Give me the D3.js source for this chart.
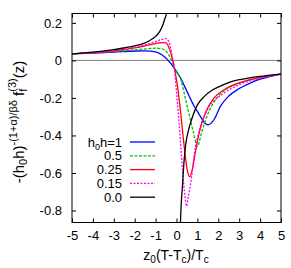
<!DOCTYPE html>
<html>
<head>
<meta charset="utf-8">
<script src="https://cdn.jsdelivr.net/npm/d3@7"></script>
<style>
body { margin: 0; background: #fff; }
text { font-family: "Liberation Sans", Arial, sans-serif; }
</style>
</head>
<body>
<svg id="chart" width="291" height="268"></svg>
<script>
// DATA
var xTicks = [-5, -4, -3, -2, -1, 0, 1, 2, 3, 4, 5];
var yTicks = [0.2, 0, -0.2, -0.4, -0.6, -0.8];
var labels = ["1", "0.5", "0.25", "0.15", "0.0"];

var blueX = [-5, -4, -3, -2, -1.5, -1, -0.7, -0.4, -0.1, 0.2, 0.5, 0.8, 1.1, 1.35, 1.5, 1.8, 2.1, 2.5, 3, 3.5, 4, 4.5, 5];
var blueY = [0.035, 0.039, 0.044, 0.05, 0.051, 0.046, 0.03, 0.0, -0.042, -0.095, -0.165, -0.235, -0.29, -0.334, -0.343, -0.315, -0.245, -0.19, -0.15, -0.122, -0.1, -0.085, -0.073];

var greenX = [-5, -4, -3, -2, -1.5, -1, -0.7, -0.45, -0.2, -0.1, 0.2, 0.4, 0.6, 0.8, 1.0, 1.2, 1.45, 1.75, 2.2, 2.8, 3.5, 4.2, 5];
var greenY = [0.035, 0.04, 0.047, 0.056, 0.061, 0.065, 0.062, 0.043, -0.01, -0.042, -0.1, -0.19, -0.285, -0.38, -0.458, -0.385, -0.3, -0.23, -0.168, -0.13, -0.105, -0.088, -0.073];

var redX = [-5, -4, -3, -2, -1.5, -1, -0.7, -0.5, -0.35, -0.2, -0.1, 0.05, 0.2, 0.35, 0.5, 0.64, 0.76, 0.9, 1.1, 1.4, 1.8, 2.3, 3, 4, 5];
var redY = [0.035, 0.041, 0.05, 0.067, 0.078, 0.09, 0.095, 0.093, 0.065, 0.01, -0.042, -0.14, -0.28, -0.44, -0.575, -0.62, -0.58, -0.49, -0.38, -0.275, -0.2, -0.155, -0.12, -0.09, -0.073];

var pinkX = [-5, -4, -3, -2, -1.5, -1, -0.7, -0.5, -0.35, -0.2, -0.1, 0.0, 0.1, 0.2, 0.3, 0.4, 0.48, 0.56, 0.7, 0.85, 1.1, 1.5, 2.2, 3, 4, 5];
var pinkY = [0.035, 0.041, 0.051, 0.07, 0.083, 0.1, 0.112, 0.116, 0.095, 0.02, -0.042, -0.17, -0.3, -0.45, -0.6, -0.72, -0.777, -0.73, -0.64, -0.5, -0.37, -0.26, -0.18, -0.13, -0.095, -0.075];

var blackLeftX = [-5, -4, -3, -2.5, -2, -1.6, -1.3, -1.0, -0.8, -0.65, -0.55, -0.48, -0.44];
var blackLeftY = [0.035, 0.044, 0.057, 0.067, 0.078, 0.09, 0.105, 0.128, 0.155, 0.19, 0.225, 0.25, 0.28];
var blackRightX = [0.17, 0.19, 0.29, 0.36, 0.44, 0.6, 0.77, 1.0, 1.32, 1.72, 2.04, 2.4, 3.0, 3.5, 4.0, 4.5, 5];
var blackRightY = [-0.95, -0.864, -0.66, -0.538, -0.449, -0.361, -0.299, -0.237, -0.193, -0.158, -0.14, -0.122, -0.103, -0.093, -0.085, -0.078, -0.073];

// SERIES TABLE
function zip(xs, ys) { return xs.map(function(x, i) { return {x: x, y: ys[i]}; }); }
var series = [
    {parts: [zip(blueX, blueY)], color: "#0000ff", dash: null},
    {parts: [zip(greenX, greenY)], color: "#00c000", dash: "3,1.5"},
    {parts: [zip(redX, redY)], color: "#ff0000", dash: null},
    {parts: [zip(pinkX, pinkY)], color: "#ff00ff", dash: "2,1.5"},
    {parts: [zip(blackLeftX, blackLeftY), zip(blackRightX, blackRightY)], color: "#000000", dash: null}
];

// LAYOUT
var L = 72, R = 281, T = 13.5, B = 222.5;
var svg = d3.select("#chart");

var x = d3.scaleLinear().domain([-5, 5]).range([L, R]);
var y = d3.scaleLinear().domain([-0.864, 0.25]).range([B, T]);

svg.append("defs").append("clipPath").attr("id", "clip")
    .append("rect").attr("x", L).attr("y", T).attr("width", R - L).attr("height", B - T);

// zero line
svg.append("line")
    .attr("x1", L).attr("x2", R).attr("y1", y(0)).attr("y2", y(0))
    .attr("stroke", "#808080").attr("stroke-width", 1);

// AXES (ticks inside, mirrored)
function tickStyle(g) {
    g.select(".domain").remove();
    g.selectAll("line").attr("stroke", "#000");
}
svg.append("g").attr("transform", "translate(0," + B + ")")
    .call(d3.axisBottom(x).tickValues(xTicks).tickSize(-4).tickPadding(8).tickFormat(d3.format("d")))
    .call(tickStyle)
    .selectAll("text").attr("font-size", "13px").attr("fill", "#000");
svg.append("g").attr("transform", "translate(0," + T + ")")
    .call(d3.axisTop(x).tickValues(xTicks).tickSize(-4).tickFormat(""))
    .call(tickStyle);
svg.append("g").attr("transform", "translate(" + L + ",0)")
    .call(d3.axisLeft(y).tickValues(yTicks).tickSize(-4).tickPadding(10).tickFormat(function(d) { return d === 0 ? "0" : d3.format(".1f")(d); }))
    .call(tickStyle)
    .selectAll("text").attr("font-size", "13px").attr("fill", "#000");
svg.append("g").attr("transform", "translate(" + R + ",0)")
    .call(d3.axisRight(y).tickValues(yTicks).tickSize(-4).tickFormat(""))
    .call(tickStyle);

// hyphen minus like gnuplot
svg.selectAll("text").each(function() {
    var t = d3.select(this);
    t.text(t.text().replace("\u2212", "-"));
});

// CURVES
var line = d3.line().x(function(d) { return x(d.x); }).y(function(d) { return y(d.y); }).curve(d3.curveMonotoneX);
var plot = svg.append("g").attr("clip-path", "url(#clip)");
series.forEach(function(s) {
    s.parts.forEach(function(p) {
        plot.append("path").datum(p)
            .attr("d", line)
            .attr("fill", "none")
            .attr("stroke", s.color)
            .attr("stroke-width", 1.3)
            .attr("stroke-dasharray", s.dash);
    });
});

// frame
svg.append("rect").attr("x", L).attr("y", T).attr("width", R - L).attr("height", B - T)
    .attr("fill", "none").attr("stroke", "#000").attr("stroke-width", 1);

// LEGEND
var leg = svg.append("g");
series.forEach(function(s, i) {
    var yy = 142 + i * 13.8;
    var t = leg.append("text").attr("x", 122).attr("y", yy).attr("dy", "0.35em")
        .attr("text-anchor", "end").attr("font-size", "13px");
    if (i === 0) {
        t.append("tspan").text("h");
        t.append("tspan").attr("font-size", "9px").attr("dy", 3).text("0");
        t.append("tspan").attr("dy", -3).text("h=" + labels[i]);
    } else {
        t.text(labels[i]);
    }
    leg.append("line").attr("x1", 130).attr("x2", 155).attr("y1", yy).attr("y2", yy)
        .attr("stroke", s.color).attr("stroke-width", 1.3).attr("stroke-dasharray", s.dash);
});

// AXIS TITLES
var xt = svg.append("text").attr("x", 176).attr("y", 260).attr("text-anchor", "middle").attr("font-size", "14px");
xt.append("tspan").text("z");
xt.append("tspan").attr("font-size", "10px").attr("dy", 3).text("0");
xt.append("tspan").attr("dy", -3).text("(T-T");
xt.append("tspan").attr("font-size", "10px").attr("dy", 3).text("c");
xt.append("tspan").attr("dy", -3).text(")/T");
xt.append("tspan").attr("font-size", "10px").attr("dy", 3).text("c");

var yt = svg.append("text").attr("transform", "translate(24,122) rotate(-90)")
    .attr("text-anchor", "middle").attr("font-size", "15px");
yt.append("tspan").text("-(h");
yt.append("tspan").attr("font-size", "11px").attr("dy", 3).text("0");
yt.append("tspan").attr("dy", -3).text("h)");
yt.append("tspan").attr("font-size", "11px").attr("dy", -7).text("-(1+\u03b1)/\u03b2\u03b4");
yt.append("tspan").attr("dy", 7).text("\u00a0f");
yt.append("tspan").attr("font-size", "11px").attr("dy", 3).text("f");
yt.append("tspan").attr("font-size", "11px").attr("dx", -3).attr("dy", -11).text("(3)");
yt.append("tspan").attr("dy", 8).text("(z)");
</script>
</body>
</html>
